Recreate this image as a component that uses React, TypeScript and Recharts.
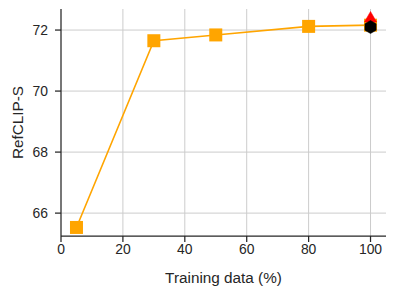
import React from 'react';
import { ComposedChart, Line, Scatter, XAxis, YAxis, ReferenceLine } from 'recharts';

const trainingPct = [5, 30, 50, 80, 100];
const refClipS = [65.53, 71.65, 71.84, 72.12, 72.16];
const redPoint = [{ x: 100, y: 72.38 }];
const blackPoint = [{ x: 100, y: 72.1 }];
const xTicks = [0, 20, 40, 60, 80, 100];
const yTicks = [66, 68, 70, 72];

const mainData = trainingPct.map((x, i) => ({ x, y: refClipS[i] }));

const FONT = '"Liberation Sans", Arial, sans-serif';
const DARK = '#262626';
const GRID = '#cccccc';

const SquareDot = (props: any) => {
  const { cx, cy, index } = props;
  if (cx == null || cy == null) return null;
  const s = 13;
  return <rect key={`sq-${index}`} x={cx - s / 2} y={cy - s / 2} width={s} height={s} fill="#FFA500" />;
};

const Triangle = (props: any) => {
  const { cx, cy } = props;
  const r = 7;
  const pts = [
    [cx, cy - r],
    [cx + r * 0.866, cy + r * 0.5],
    [cx - r * 0.866, cy + r * 0.5],
  ];
  return <polygon points={pts.map(p => p.join(',')).join(' ')} fill="#FF0000" stroke="#FF0000" strokeWidth={0.5} />;
};

const Hexagon = (props: any) => {
  const { cx, cy } = props;
  const r = 6.5;
  const pts = [];
  for (let k = 0; k < 6; k++) {
    const a = (Math.PI / 3) * k - Math.PI / 2;
    pts.push([cx + r * Math.cos(a), cy + r * Math.sin(a)]);
  }
  return <polygon points={pts.map(p => p.join(',')).join(' ')} fill="#000000" stroke="#000000" strokeWidth={0.5} />;
};

export default function App() {
  return (
    <div style={{ position: 'absolute', left: 0, top: 0, width: 396, height: 296, background: '#fff' }}>
      <style>{'svg.recharts-surface rect { stroke: none !important; } svg.recharts-surface { outline: none; }'}</style>
      <ComposedChart width={396} height={296} margin={{ top: 9, right: 10, bottom: 10, left: 0 }} accessibilityLayer={false}>
        {xTicks.filter(t => t > 0).map(t => (
          <ReferenceLine key={`vx-${t}`} x={t} stroke={GRID} strokeWidth={1} />
        ))}
        {yTicks.map(t => (
          <ReferenceLine key={`hy-${t}`} y={t} stroke={GRID} strokeWidth={1} />
        ))}
        <XAxis
          type="number"
          dataKey="x"
          domain={[0, 105]}
          ticks={xTicks}
          height={50}
          stroke={DARK}
          strokeWidth={1.25}
          tickSize={6}
          tickMargin={2}
          tick={{ fill: DARK, fontSize: 13.9, fontFamily: FONT }}
          label={{ value: 'Training data (%)', position: 'insideBottom', offset: 3, fill: DARK, fontSize: 15.3, fontFamily: FONT }}
        />
        <YAxis
          type="number"
          dataKey="y"
          domain={[65.25, 72.69]}
          ticks={yTicks}
          width={61}
          stroke={DARK}
          strokeWidth={1.25}
          tickSize={6}
          tickMargin={7}
          tick={{ fill: DARK, fontSize: 13.9, fontFamily: FONT }}
          label={{ value: 'RefCLIP-S', angle: -90, position: 'insideLeft', offset: 18, fill: DARK, fontSize: 15.3, fontFamily: FONT, style: { textAnchor: 'middle' } }}
        />
        <Line data={mainData} dataKey="y" type="linear" stroke="#FFA500" strokeWidth={1.6} dot={<SquareDot />} activeDot={false} isAnimationActive={false} />
        <Scatter data={redPoint} dataKey="y" shape={<Triangle />} isAnimationActive={false} />
        <Scatter data={blackPoint} dataKey="y" shape={<Hexagon />} isAnimationActive={false} />
      </ComposedChart>
    </div>
  );
}
